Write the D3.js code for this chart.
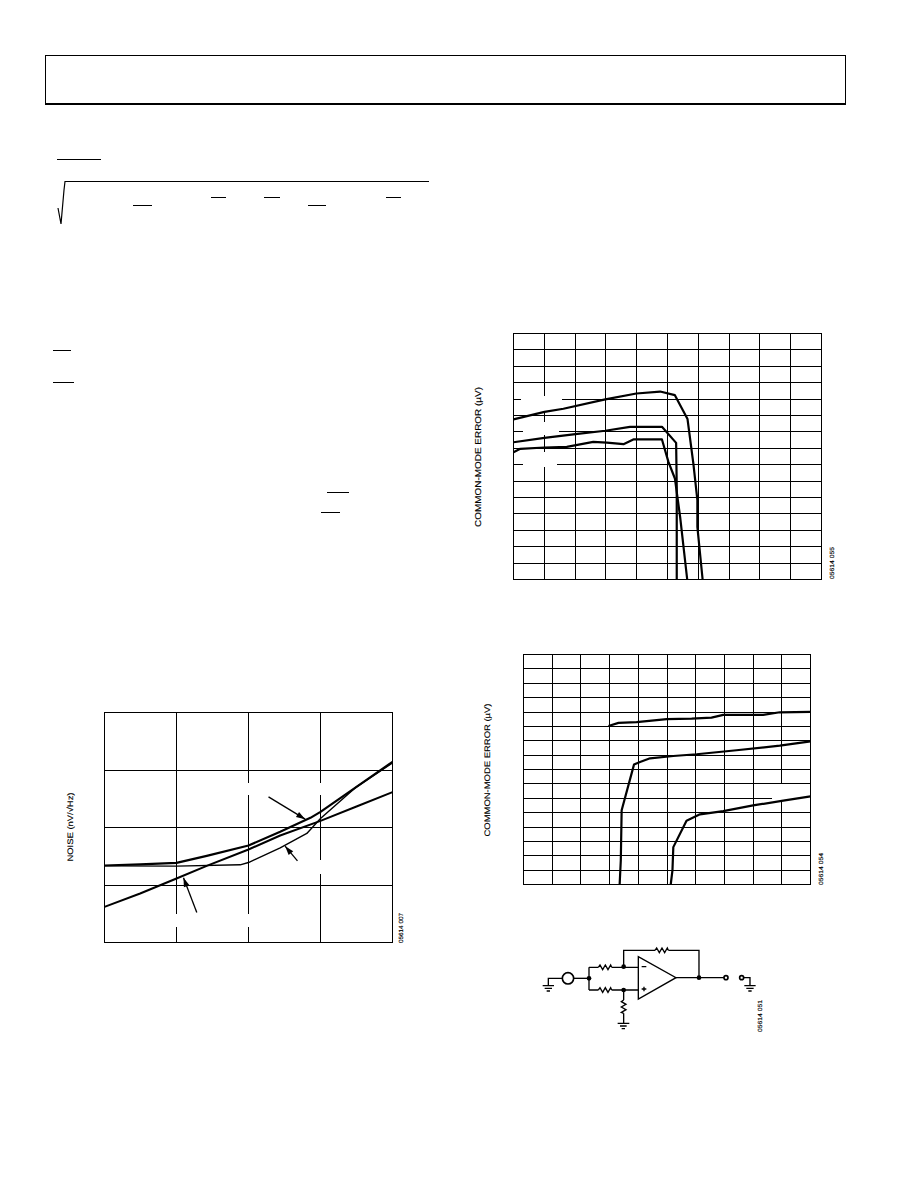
<!DOCTYPE html>
<html><head><meta charset="utf-8">
<script src="https://cdnjs.cloudflare.com/ajax/libs/d3/7.8.5/d3.min.js"></script>
<style>html,body{margin:0;padding:0;background:#fff}svg{display:block}text{font-family:"Liberation Sans",sans-serif;fill:#000;stroke:#000;stroke-width:.15;text-rendering:geometricPrecision}</style>
</head><body><div id="c"></div>
<script>
// ---- Noise chart (grid units: 4 columns x 4 rows) ----
const noiseX = [0, 0.495, 1, 1.42, 2, 2.44, 2.86, 3, 3.5, 4];
const noiseTotal = [1.339, 1.36, 1.386, 1.507, 1.687, 1.925, 2.168, 2.272, 2.707, 3.142];
const noiseVoltageX = [0, 0.495, 1, 1.42, 2, 2.44, 3, 3.5, 4];
const noiseVoltage = [0.62, 0.852, 1.113, 1.333, 1.617, 1.861, 2.116, 2.365, 2.614];
const noiseCurrentX = [0, 1, 1.884, 2, 2.44, 2.81, 3, 3.5, 4];
const noiseCurrent = [1.333, 1.328, 1.351, 1.391, 1.646, 1.896, 2.157, 2.707, 3.125];
const noiseArrows = [[2.278, 2.533, 2.787, 2.145], [2.68, 1.42, 2.509, 1.675], [1.282, 0.522, 1.097, 1.125]];
const noiseVGaps = [[1, 0.272, 0.504], [2, 2.562, 2.777], [2, 0.272, 0.504], [3, 2.562, 2.777], [3, 1.2, 1.432]];
// ---- Common-mode error vs. output voltage, first chart ----
const cm1AX = [0, 1.005, 1.62, 2.98, 3.99, 4.76, 5.24, 5.65, 5.84, 5.97, 5.97, 6.14];
const cm1A = [9.76, 10.22, 10.41, 10.98, 11.34, 11.46, 11.24, 9.78, 7.07, 4.84, 3.21, 0];
const cm1BX = [0, 1.005, 2.01, 2.98, 3.78, 4.82, 5.28, 5.3, 5.3];
const cm1B = [8.37, 8.64, 8.86, 9.07, 9.31, 9.31, 8.33, 5.65, 0];
const cm1CX = [0, 0.22, 1.005, 1.73, 2.59, 3.03, 3.57, 3.89, 4.82, 5.03, 5.24, 5.41, 5.64];
const cm1C = [7.76, 7.97, 8.05, 8.09, 8.39, 8.35, 8.25, 8.54, 8.54, 7.17, 6.16, 3.82, 0];
const cm1HGaps = [[11, 0.25, 1.58], [9, 0.31, 1.48], [7, 0.31, 1.42]];
const cm1VGaps = [[1, 10.26, 11.18], [1, 8.8, 9.59], [1, 6.91, 7.76]];
// ---- Common-mode error, second chart ----
const cm2AX = [2.96, 3.31, 3.94, 4.99, 5.86, 6.55, 6.96, 8.35, 8.93, 10];
const cm2A = [11.03, 11.24, 11.29, 11.5, 11.54, 11.61, 11.8, 11.8, 11.98, 12.01];
const cm2BX = [10, 8.93, 7.42, 6.03, 5.22, 4.41, 4.06, 3.85, 3.42, 3.39, 3.35];
const cm2B = [9.96, 9.66, 9.34, 9.06, 8.94, 8.78, 8.52, 8.34, 5.16, 1.67, 0];
const cm2CX = [10, 9.05, 8, 6.96, 6.15, 5.68, 5.22, 5.19, 5.13];
const cm2C = [6.13, 5.83, 5.5, 5.11, 4.88, 4.44, 2.6, 0.98, 0];
const cm2HGaps = [[6, 8.65, 10]];
const cm2VGaps = [[9, 6.06, 6.97]];

const zip = (xs, ys) => xs.map((x, i) => [x, ys[i]]);
const svg = d3.select("#c").append("svg").attr("width", 918).attr("height", 1188);
const ink = "#000";

function chart(o) {
  const x = d3.scaleLinear().domain([0, o.cols]).range([o.x0, o.x1]);
  const y = d3.scaleLinear().domain([0, o.rows]).range([o.y1, o.y0]);
  const g = svg.append("g");
  const grid = g.append("g").attr("shape-rendering", "crispEdges").attr("stroke", ink).attr("fill", "none");
  const ax = d3.axisBottom(x).tickValues(d3.range(1, o.cols)).tickSize(o.y0 - o.y1).tickFormat("").offset(0);
  const ay = d3.axisLeft(y).tickValues(d3.range(1, o.rows)).tickSize(o.x0 - o.x1).tickFormat("").offset(0);
  const gx = grid.append("g").attr("transform", `translate(0,${o.y1})`).call(ax);
  const gy = grid.append("g").attr("transform", `translate(${o.x0},0)`).call(ay);
  gx.select(".domain").remove(); gy.select(".domain").remove();
  grid.selectAll("line").attr("stroke", ink);
  g.selectAll("rect.vgap").data(o.vGaps || []).join("rect").attr("class", "vgap").attr("fill", "#fff").attr("shape-rendering", "crispEdges")
    .attr("x", d => x(d[0]) - 2).attr("width", 4).attr("y", d => y(d[2])).attr("height", d => y(d[1]) - y(d[2]));
  g.selectAll("rect.hgap").data(o.hGaps || []).join("rect").attr("class", "hgap").attr("fill", "#fff").attr("shape-rendering", "crispEdges")
    .attr("y", d => y(d[0]) - 2).attr("height", 4).attr("x", d => x(d[1])).attr("width", d => x(d[2]) - x(d[1]));
  g.append("rect").attr("x", x(0)).attr("y", y(o.rows)).attr("width", x(o.cols) - x(0)).attr("height", y(0) - y(o.rows))
    .attr("fill", "none").attr("stroke", ink).attr("shape-rendering", "crispEdges");
  const line = d3.line().x(d => x(d[0])).y(d => y(d[1]));
  o.series.forEach(s => g.append("path").attr("d", line(s.pts)).attr("fill", "none").attr("stroke", ink)
    .attr("stroke-width", s.w).attr("stroke-linejoin", "round"));
  (o.arrows || []).forEach(a => {
    const [x1, y1, x2, y2] = [x(a[0]), y(a[1]), x(a[2]), y(a[3])];
    const t = Math.atan2(y2 - y1, x2 - x1), L = 9, W = 3;
    g.append("line").attr("x1", x1).attr("y1", y1).attr("x2", x2).attr("y2", y2).attr("stroke", ink).attr("stroke-width", 1.3);
    const px = -Math.sin(t), py = Math.cos(t), bx = x2 - L * Math.cos(t), by = y2 - L * Math.sin(t);
    g.append("path").attr("d", `M${x2},${y2}L${bx + W * px},${by + W * py}L${bx - W * px},${by - W * py}Z`).attr("fill", ink);
  });
}
function vtext(s, x, yMid, size, len) {
  svg.append("text").attr("transform", `translate(${x},${yMid}) rotate(-90)`).attr("text-anchor", "middle")
    .attr("font-size", size).attr("textLength", len).attr("lengthAdjust", "spacingAndGlyphs").text(s);
}

// page frame
svg.append("rect").attr("x", 45.5).attr("y", 55.5).attr("width", 800).attr("height", 48).attr("fill", "none").attr("stroke", ink).attr("shape-rendering", "crispEdges");
svg.append("rect").attr("x", 45).attr("y", 103).attr("width", 801).attr("height", 2).attr("fill", ink);

// equation rules left in the page text
const rules = [[57, 101, 159], [133, 152, 205], [211, 226, 197], [264, 280, 197], [308, 326, 205], [386, 401, 197], [53, 71, 350], [53, 74, 382], [327, 349, 492], [321, 340, 512]];
svg.append("g").attr("shape-rendering", "crispEdges").selectAll("line").data(rules).join("line")
  .attr("x1", d => d[0]).attr("x2", d => d[1]).attr("y1", d => d[2] + .5).attr("y2", d => d[2] + .5).attr("stroke", ink);
svg.append("path").attr("d", "M58,208L61,224L64,190L65,181.5L429,181.5").attr("fill", "none").attr("stroke", ink).attr("stroke-width", 1.2);

chart({ x0: 104.5, x1: 392.5, y0: 712.5, y1: 942.5, cols: 4, rows: 4, vGaps: noiseVGaps,
  series: [{ pts: zip(noiseX, noiseTotal), w: 2.2 }, { pts: zip(noiseVoltageX, noiseVoltage), w: 2 }, { pts: zip(noiseCurrentX, noiseCurrent), w: 1.4 }], arrows: noiseArrows });
vtext("NOISE (nV/√Hz)", 73, 827, 8, 69);
vtext("05614 007", 403, 928, 6, 30);

chart({ x0: 513.5, x1: 821.5, y0: 333.5, y1: 579.5, cols: 10, rows: 15, hGaps: cm1HGaps, vGaps: cm1VGaps,
  series: [{ pts: zip(cm1AX, cm1A), w: 2.2 }, { pts: zip(cm1BX, cm1B), w: 2.2 }, { pts: zip(cm1CX, cm1C), w: 2.2 }] });
vtext("COMMON-MODE ERROR (µV)", 481, 457, 8.5, 140);
vtext("05614 055", 834, 563, 6, 32);

chart({ x0: 523.5, x1: 810.5, y0: 654.5, y1: 884.5, cols: 10, rows: 16, hGaps: cm2HGaps, vGaps: cm2VGaps,
  series: [{ pts: zip(cm2AX, cm2A), w: 2.2 }, { pts: zip(cm2BX, cm2B), w: 2.2 }, { pts: zip(cm2CX, cm2C), w: 2.2 }] });
vtext("COMMON-MODE ERROR (µV)", 490, 770, 8, 133);
vtext("05614 054", 823, 869, 6, 32);

// circuit schematic
const sch = svg.append("g").attr("transform", "translate(530,935) scale(0.3333)");
const wires = ["M100,130H55V152", "M38,152H72M44,160H66M50,168H60", "M131,130H177", "M177,97V165", "M177,97H205M245,97H325", "M177,165H205M245,165H325",
  "M205,97l5,-7l8,14l8,-14l8,14l8,-14l3,7", "M205,165l5,-7l8,14l8,-14l8,14l8,-14l3,7",
  "M325,65V192L438,128Z", "M281,97V46H375M415,46H507V128", "M375,46l5,-7l8,14l8,-14l8,14l8,-14l3,7", "M438,128H582", "M641,128H660V152", "M643,152H677M649,160H671M655,168H665",
  "M281,165V195M281,235V265", "M281,195l-7,5l14,8l-14,8l14,8l-14,8l7,3", "M263,265H298M270,273H290M275,281H285", "M335,95H349M335,162H349M342,155V169"];
sch.selectAll("path").data(wires).join("path").attr("d", d => d).attr("fill", "none").attr("stroke", ink).attr("stroke-width", 4);
const dots = [[177, 130], [281, 95], [281, 165], [507, 128]];
sch.selectAll("circle.d").data(dots).join("circle").attr("class", "d").attr("cx", d => d[0]).attr("cy", d => d[1]).attr("r", 7).attr("fill", ink);
const opens = [[114, 130, 17], [588, 128, 6], [635, 128, 6]];
sch.selectAll("circle.o").data(opens).join("circle").attr("class", "o").attr("cx", d => d[0]).attr("cy", d => d[1]).attr("r", d => d[2]).attr("fill", "#fff").attr("stroke", ink).attr("stroke-width", 5);
vtext("05614 051", 762, 1016, 6, 32);
</script></body></html>
